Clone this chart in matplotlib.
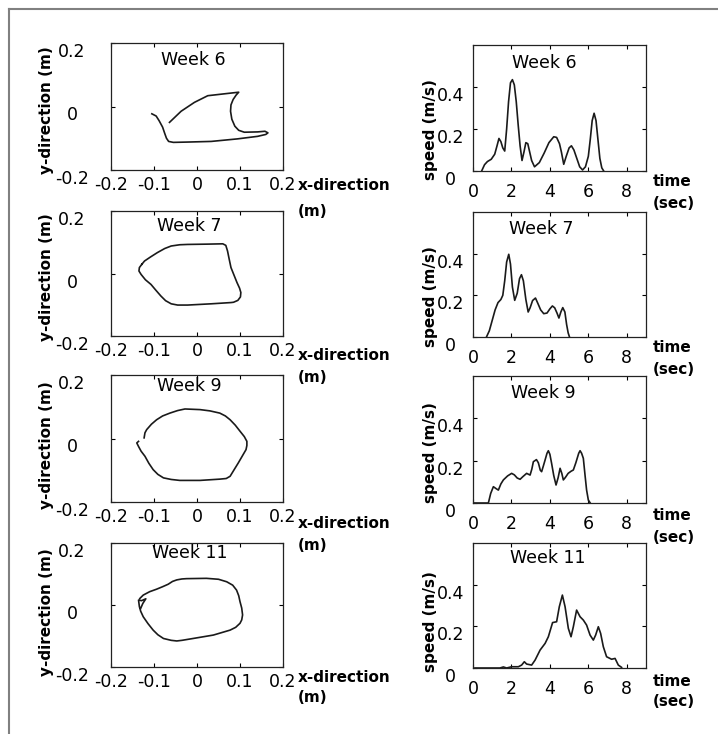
import matplotlib
matplotlib.use("Agg")
import matplotlib.pyplot as plt
from matplotlib.lines import Line2D

plt.rcParams['font.family'] = ['DejaVu Sans']
plt.rcParams['axes.unicode_minus'] = False

# hand path (x, y in m)
w6_x = [-0.105, -0.095, -0.088, -0.080, -0.075, -0.071, -0.066, -0.055, -0.022, 0.033, 0.094, 0.141,
        0.160, 0.165, 0.158, 0.141, 0.110, 0.097, 0.088, 0.081, 0.078, 0.079, 0.084, 0.091, 0.097,
        0.064, 0.025, -0.006, -0.037, -0.064]
w6_y = [-0.023, -0.030, -0.045, -0.065, -0.085, -0.100, -0.110, -0.113, -0.112, -0.110, -0.102, -0.094,
        -0.088, -0.083, -0.078, -0.080, -0.081, -0.075, -0.062, -0.040, -0.015, 0.005, 0.022, 0.036, 0.045,
        0.040, 0.034, 0.013, -0.015, -0.050]

w7_x = [-0.128, -0.122, -0.108, -0.092, -0.075, -0.060, -0.040, -0.022, 0.025, 0.060, 0.067, 0.071,
        0.075, 0.079, 0.086, 0.093, 0.099, 0.102, 0.101, 0.095, 0.085, 0.079, 0.033, -0.022, -0.045,
        -0.060, -0.073, -0.084, -0.096, -0.107, -0.120, -0.130, -0.135, -0.134, -0.128]
w7_y = [0.030, 0.040, 0.053, 0.067, 0.080, 0.088, 0.092, 0.093, 0.094, 0.095, 0.090, 0.072,
        0.045, 0.019, -0.005, -0.029, -0.047, -0.061, -0.075, -0.086, -0.092, -0.093, -0.097, -0.101, -0.101,
        -0.097, -0.087, -0.072, -0.053, -0.035, -0.020, -0.003, 0.008, 0.019, 0.030]

w9_x = [-0.123, -0.121, -0.117, -0.106, -0.094, -0.080, -0.063, -0.045, -0.028, 0.007, 0.030, 0.053,
        0.066, 0.077, 0.089, 0.100, 0.110, 0.116, 0.116, 0.114, 0.105, 0.096, 0.086, 0.077, 0.068, 0.053,
        0.007, -0.040, -0.060, -0.078, -0.091, -0.102, -0.112, -0.121, -0.130, -0.136, -0.140, -0.136]
w9_y = [0.002, 0.018, 0.028, 0.045, 0.059, 0.071, 0.080, 0.088, 0.093, 0.091, 0.087, 0.080,
        0.071, 0.059, 0.042, 0.023, 0.006, -0.009, -0.022, -0.035, -0.056, -0.077, -0.099, -0.119, -0.126,
        -0.128, -0.132, -0.132, -0.129, -0.124, -0.113, -0.098, -0.078, -0.056, -0.040, -0.025, -0.014, -0.009]

w11_x = [-0.133, -0.125, -0.110, -0.094, -0.080, -0.067, -0.057, -0.047, -0.035, -0.024, 0.022, 0.050,
         0.069, 0.083, 0.092, 0.097, 0.100, 0.104, 0.106, 0.104, 0.100, 0.090, 0.077, 0.038, -0.009,
         -0.035, -0.047, -0.060, -0.078, -0.091, -0.102, -0.114, -0.125, -0.131, -0.134, -0.136, -0.129,
         -0.119, -0.126, -0.131]
w11_y = [0.021, 0.032, 0.043, 0.051, 0.059, 0.067, 0.076, 0.081, 0.084, 0.085, 0.086, 0.083,
         0.075, 0.064, 0.048, 0.030, 0.011, -0.010, -0.032, -0.048, -0.059, -0.072, -0.081, -0.097, -0.108,
         -0.114, -0.116, -0.114, -0.108, -0.096, -0.081, -0.060, -0.038, -0.020, -0.005, 0.016, 0.014,
         0.020, 0.005, -0.011]

# speed profiles (t in s, v in m/s)
w6_t = [0.45, 0.6, 0.75, 0.95, 1.13, 1.25, 1.35, 1.45, 1.55, 1.65, 1.75, 1.85, 1.95, 2.05, 2.15, 2.25,
        2.35, 2.45, 2.55, 2.65, 2.75, 2.85, 2.95, 3.05, 3.2, 3.45, 3.7, 3.95, 4.2, 4.35, 4.5, 4.6, 4.72,
        4.85, 5.0, 5.12, 5.25, 5.4, 5.55, 5.7, 5.85, 6.0, 6.1, 6.2, 6.3, 6.4, 6.5, 6.6, 6.7, 6.8]
w6_v = [0, 0.03, 0.045, 0.056, 0.08, 0.12, 0.155, 0.14, 0.11, 0.095, 0.2, 0.33, 0.42, 0.435, 0.41, 0.33,
        0.22, 0.12, 0.05, 0.09, 0.135, 0.13, 0.09, 0.05, 0.02, 0.04, 0.085, 0.135, 0.163, 0.16, 0.13, 0.09,
        0.032, 0.07, 0.11, 0.12, 0.1, 0.06, 0.02, 0.005, 0.02, 0.07, 0.15, 0.24, 0.275, 0.24, 0.15, 0.06,
        0.015, 0.0]

w7_t = [0.7, 0.85, 1.0, 1.15, 1.3, 1.45, 1.55, 1.65, 1.75, 1.86, 1.95, 2.05, 2.17, 2.3, 2.42, 2.52, 2.62,
        2.75, 2.87, 2.97, 3.1, 3.25, 3.38, 3.52, 3.68, 3.85, 4.0, 4.13, 4.25, 4.37, 4.47, 4.57, 4.67, 4.78,
        4.87, 4.95, 5.02]
w7_v = [0, 0.03, 0.08, 0.13, 0.165, 0.18, 0.2, 0.27, 0.36, 0.397, 0.35, 0.24, 0.176, 0.21, 0.28, 0.299,
        0.27, 0.18, 0.12, 0.14, 0.175, 0.187, 0.16, 0.13, 0.112, 0.115, 0.135, 0.149, 0.14, 0.115, 0.091,
        0.12, 0.141, 0.12, 0.06, 0.02, 0.0]

w9_t = [0.0, 0.25, 0.8, 0.92, 1.06, 1.2, 1.32, 1.45, 1.58, 1.8, 2.01, 2.15, 2.3, 2.45, 2.6, 2.79, 2.97,
        3.06, 3.14, 3.3, 3.4, 3.5, 3.57, 3.66, 3.75, 3.85, 3.92, 4.0, 4.09, 4.2, 4.32, 4.43, 4.53, 4.62,
        4.7, 4.8, 4.95, 5.1, 5.22, 5.35, 5.5, 5.57, 5.65, 5.74, 5.83, 5.91, 6.0, 6.1]
w9_v = [0, 0, 0, 0.045, 0.077, 0.068, 0.061, 0.09, 0.109, 0.128, 0.140, 0.133, 0.118, 0.112, 0.125, 0.140,
        0.132, 0.16, 0.195, 0.205, 0.19, 0.155, 0.148, 0.175, 0.203, 0.235, 0.247, 0.23, 0.187, 0.13, 0.085,
        0.12, 0.164, 0.14, 0.109, 0.12, 0.14, 0.15, 0.156, 0.19, 0.235, 0.247, 0.235, 0.211, 0.13, 0.061,
        0.014, 0.0]

w11_t = [0.1, 1.4, 1.58, 1.75, 2.01, 2.36, 2.53, 2.67, 2.79, 3.05, 3.23, 3.49, 3.75, 3.92, 4.14, 4.35,
         4.49, 4.65, 4.79, 4.96, 5.10, 5.22, 5.39, 5.57, 5.74, 5.91, 6.09, 6.26, 6.38, 6.52, 6.64, 6.78,
         6.95, 7.21, 7.39, 7.56, 7.73]
w11_v = [0, 0, 0.005, 0, 0.006, 0.006, 0.014, 0.030, 0.019, 0.014, 0.038, 0.086, 0.118, 0.150, 0.218,
         0.222, 0.294, 0.350, 0.294, 0.190, 0.150, 0.198, 0.278, 0.246, 0.230, 0.206, 0.158, 0.134, 0.158,
         0.198, 0.166, 0.102, 0.054, 0.042, 0.046, 0.014, 0.003]

weeks = ['Week 6', 'Week 7', 'Week 9', 'Week 11']
paths_x = [w6_x, w7_x, w9_x, w11_x]
paths_y = [w6_y, w7_y, w9_y, w11_y]
times = [w6_t, w7_t, w9_t, w11_t]
speeds = [w6_v, w7_v, w9_v, w11_v]

pos_ticks = [-0.2, -0.1, 0, 0.1, 0.2]
pos_labels = ['-0.2', '-0.1', '0', '0.1', '0.2']
ypos_ticks = [-0.2, 0, 0.2]
ypos_labels = ['-0.2', '0', '0.2']
t_ticks = [0, 2, 4, 6, 8]
t_labels = ['0', '2', '4', '6', '8']
v_ticks = [0, 0.2, 0.4]
v_labels = ['0', '0.2', '0.4']

W, H = 718, 734
fig = plt.figure(figsize=(W / 100, H / 100), dpi=100)

# axes boxes in pixels: (top, bottom)
left_rows = [(43, 170), (211, 336), (375, 502), (543, 667)]
right_rows = [(45, 171), (212, 337), (376, 503), (543, 668)]
left_week_pos = [(0.48, 0.87), (0.455, 0.88), (0.455, 0.91), (0.455, 0.92)]
right_week_pos = [(0.415, 0.86), (0.395, 0.865), (0.405, 0.87), (0.43, 0.88)]
xlab_off = [(-16, -42), (-19, -42), (-21, -44), (-10, -30)]
tlab_off = [(-11, -33), (-11, -33), (-13, -35), (-13, -34)]
ylab_y = [0.47, 0.47, 0.45, 0.44]
vlab_y = [0.325, 0.32, 0.40, 0.37]

line_kw = dict(color='#1a1a1a', lw=1.2)
tick_fs = 12.5
lab_fs = 11

for i in range(4):
    # position plot
    top, bot = left_rows[i]
    ax = fig.add_axes([111 / W, 1 - bot / H, 172 / W, (bot - top) / H])
    ax.plot(paths_x[i], paths_y[i], **line_kw)
    ax.set_xlim(-0.2, 0.2)
    ax.set_ylim(-0.2, 0.2)
    ax.set_xticks(pos_ticks)
    ax.set_xticklabels(pos_labels, fontsize=tick_fs)
    ax.set_yticks(ypos_ticks)
    ax.set_yticklabels(ypos_labels, fontsize=tick_fs, ha='center', va='top')
    ax.tick_params(axis='both', direction='in', top=True, right=True, length=3, width=0.8)
    ax.tick_params(axis='x', pad=4)
    ax.tick_params(axis='y', pad=28)
    for s in ax.spines.values():
        s.set_linewidth(0.9)
        s.set_color('#222222')
    ax.text(*left_week_pos[i], weeks[i], transform=ax.transAxes, ha='center', va='center', fontsize=12.5)
    ax.text(-64 / 172, ylab_y[i], 'y-direction (m)', transform=ax.transAxes, rotation=90,
            ha='center', va='center', fontsize=lab_fs, fontweight='bold')
    ax.annotate('x-direction', xy=(1, 0), xycoords='axes fraction', xytext=(15, xlab_off[i][0]),
                textcoords='offset pixels', ha='left', va='center', fontsize=lab_fs, fontweight='bold')
    ax.annotate('(m)', xy=(1, 0), xycoords='axes fraction', xytext=(15, xlab_off[i][1]),
                textcoords='offset pixels', ha='left', va='center', fontsize=lab_fs, fontweight='bold')

    # speed plot
    top, bot = right_rows[i]
    ax = fig.add_axes([473 / W, 1 - bot / H, 173 / W, (bot - top) / H])
    ax.plot(times[i], speeds[i], **line_kw)
    ax.set_xlim(0, 9)
    ax.set_ylim(0, 0.6)
    ax.set_xticks(t_ticks)
    ax.set_xticklabels(t_labels, fontsize=tick_fs)
    ax.set_yticks(v_ticks)
    ax.set_yticklabels(v_labels, fontsize=tick_fs, ha='center', va='top')
    ax.tick_params(axis='both', direction='in', top=True, right=True, length=3, width=0.8)
    ax.tick_params(axis='x', pad=8.5)
    ax.tick_params(axis='y', pad=16)
    for s in ax.spines.values():
        s.set_linewidth(0.9)
        s.set_color('#222222')
    ax.text(*right_week_pos[i], weeks[i], transform=ax.transAxes, ha='center', va='center', fontsize=12.5)
    ax.text(-43 / 173, vlab_y[i], 'speed (m/s)', transform=ax.transAxes, rotation=90,
            ha='center', va='center', fontsize=lab_fs, fontweight='bold')
    ax.annotate('time', xy=(1, 0), xycoords='axes fraction', xytext=(7, tlab_off[i][0]),
                textcoords='offset pixels', ha='left', va='center', fontsize=lab_fs, fontweight='bold')
    ax.annotate('(sec)', xy=(1, 0), xycoords='axes fraction', xytext=(7, tlab_off[i][1]),
                textcoords='offset pixels', ha='left', va='center', fontsize=lab_fs, fontweight='bold')

# page frame (top and left edge)
fig.add_artist(Line2D([9 / W, 1], [1 - 9 / H, 1 - 9 / H], color='#808080', lw=1.5))
fig.add_artist(Line2D([9 / W, 9 / W], [0, 1 - 9 / H], color='#808080', lw=1.5))

fig.savefig('out.png', dpi=100)
